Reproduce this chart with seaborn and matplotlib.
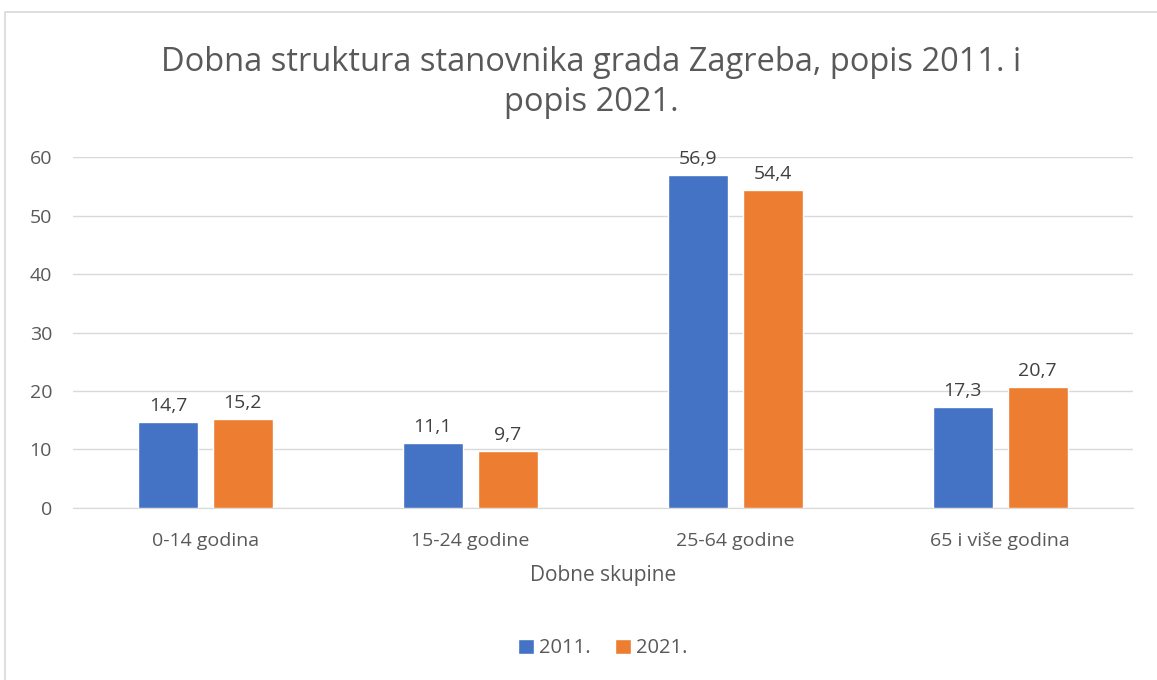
import matplotlib
matplotlib.use("Agg")
import matplotlib.pyplot as plt
import pandas as pd
import seaborn as sns

# Podaci s grafikona (postotni udio po dobnim skupinama)
categories = ["0-14 godina", "15-24 godine", "25-64 godine", "65 i više godina"]
years = ["2011.", "2021."]
values_2011 = [14.7, 11.1, 56.9, 17.3]
values_2021 = [15.2, 9.7, 54.4, 20.7]
y_ticks = [0, 10, 20, 30, 40, 50, 60]

df = pd.DataFrame({
    "skupina": categories * 2,
    "popis": [years[0]] * 4 + [years[1]] * 4,
    "udio": values_2011 + values_2021,
})

sns.set_style("white")
plt.rcParams["font.family"] = ["Open Sans", "DejaVu Sans"]
text_col = "#595959"

fig = plt.figure(figsize=(11.57, 6.8), dpi=100)
ax = fig.add_axes([0.063, 0.253, 0.916, 0.516])

palette = {"2011.": "#4472C4", "2021.": "#ED7D31"}
sns.barplot(data=df, x="skupina", y="udio", hue="popis", order=categories,
            hue_order=years, palette=palette, width=0.566, gap=0.2,
            saturation=1, ax=ax, legend=True, zorder=3)

for cont in ax.containers:
    ax.bar_label(cont, labels=[f"{v:.1f}".replace(".", ",") for v in cont.datavalues],
                 padding=5, fontsize=14, color="#404040")

ax.set_ylim(0, 60)
ax.set_xlim(-0.5, 3.5)
ax.set_yticks(y_ticks)
ax.yaxis.grid(True, color="#D9D9D9", linewidth=1, zorder=0)
ax.set_axisbelow(True)
for s in ["top", "right", "left"]:
    ax.spines[s].set_visible(False)
ax.spines["bottom"].set_color("#D9D9D9")
ax.tick_params(axis="both", length=0, labelsize=14, labelcolor=text_col)
ax.tick_params(axis="x", pad=17)
ax.tick_params(axis="y", pad=15)
ax.set_ylabel("")
ax.set_xlabel("Dobne skupine", fontsize=15, color=text_col, labelpad=11)

leg = ax.legend(loc="center", bbox_to_anchor=(0.5, -0.40), ncol=2, frameon=False,
                fontsize=14.5, handlelength=0.8, handleheight=0.8, handletextpad=0.25,
                columnspacing=1.2)
for t in leg.get_texts():
    t.set_color(text_col)

fig.text(0.511, 0.879, "Dobna struktura stanovnika grada Zagreba, popis 2011. i\npopis 2021.",
         ha="center", va="center", fontsize=23.5, color=text_col, linespacing=1.3)

# okvir grafikona
fig.patches.append(plt.Rectangle((0.004, -0.05), 1.1, 1.033, transform=fig.transFigure,
                                 fill=False, edgecolor="#D9D9D9", linewidth=1.2))

fig.savefig("out.png", dpi=100)
plt.close(fig)
